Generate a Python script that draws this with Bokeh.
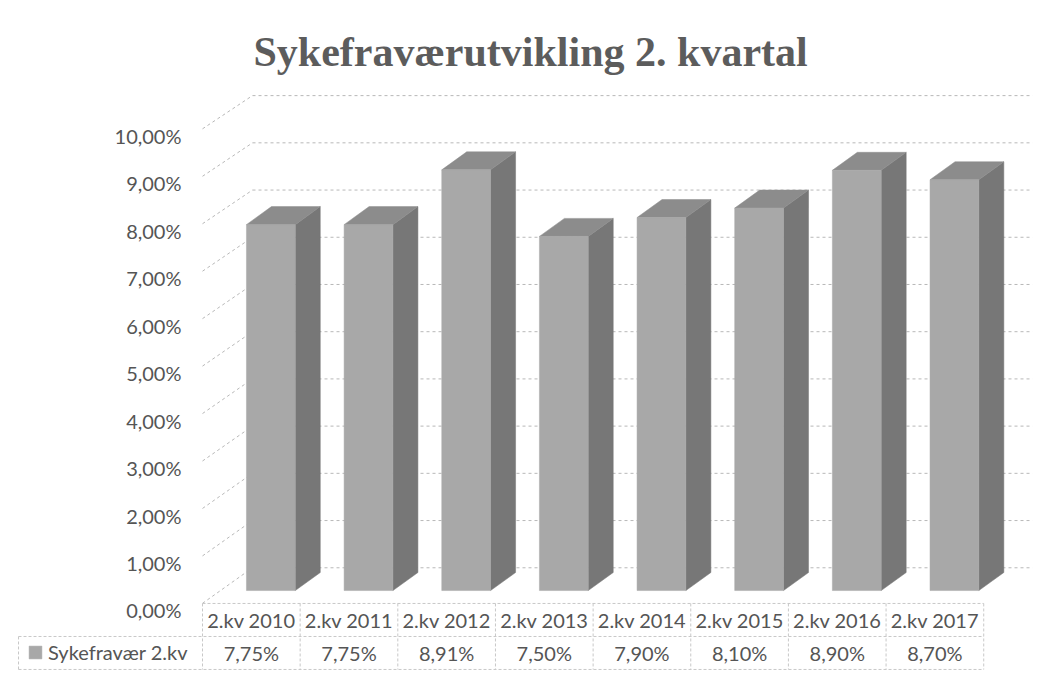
from bokeh.plotting import figure
from bokeh.models import Range1d, FixedTicker, ColumnDataSource, Legend, LegendItem
from bokeh.core.properties import value
from bokeh.embed import file_html
from bokeh.resources import INLINE

# ---- data ----
categories = ["2.kv 2010", "2.kv 2011", "2.kv 2012", "2.kv 2013",
              "2.kv 2014", "2.kv 2015", "2.kv 2016", "2.kv 2017"]
values = [7.75, 7.75, 8.91, 7.50, 7.90, 8.10, 8.90, 8.70]
series_name = "Sykefravær 2.kv"
y_ticks = [0, 1, 2, 3, 4, 5, 6, 7, 8, 9, 10]
y_tick_labels = ["0,00%", "1,00%", "2,00%", "3,00%", "4,00%", "5,00%",
                 "6,00%", "7,00%", "8,00%", "9,00%", "10,00%"]
title_text = "Sykefraværutvikling 2. kvartal"

# ---- style / geometry ----
FONT = "Lato"
TXT = "#555555"
FRONT = "#a8a8a8"
SIDE = "#777777"
TOP = "#8c8c8c"
GRID = "#b8b8b8"
CELL = "#c8c8c8"

bar_left = 0.45          # front face left offset within category cell
bar_w = 0.50             # front face width
depth_x = 0.256          # bar depth (x units)
depth_y = 0.38           # bar depth (y units)
base = 0.42              # front base level
persp = 0.995            # front-face scale
wall_x = 0.512           # back-wall start
wall_end = 8.5
wall_dy = 0.90
wall_s = 0.995
front_dy = 0.15
row1_top = 0.148
row1_bot = -0.548
row2_bot = -1.243
key_left = -1.884        # left edge of the table's key column

n = len(categories)

p = figure(width=1040, height=672, x_range=Range1d(-1.8945, 8.52),
           y_range=Range1d(-1.286, 11.0),
           output_backend="svg", toolbar_location=None,
           x_axis_location=None, min_border_left=17, min_border_right=6,
           min_border_top=88, min_border_bottom=1, title=title_text)
p.outline_line_color = None
p.grid.visible = False
p.background_fill_color = "white"
p.border_fill_color = "white"
p.title.text_font = "Liberation Serif"
p.title.text_font_style = "bold"
p.title.text_font_size = "42px"
p.title.text_color = "#5c5c5c"
p.title.align = "left"
p.title.offset = 236
p.title.standoff = 28

ax = p.yaxis[0]
ax.fixed_location = 0
ax.ticker = FixedTicker(ticks=y_ticks)
ax.major_label_overrides = {t: lab for t, lab in zip(y_ticks, y_tick_labels)}
ax.axis_line_color = None
ax.major_tick_line_color = None
ax.minor_tick_line_color = None
ax.major_tick_out = 0
ax.major_tick_in = 0
ax.major_label_text_font = FONT
ax.major_label_text_font_size = "20px"
ax.major_label_text_color = TXT
ax.major_label_standoff = 21

# back wall gridlines and left-wall diagonals
back_y = [t * wall_s + wall_dy for t in y_ticks]
p.segment(x0=[wall_x] * len(y_ticks), y0=back_y,
          x1=[wall_end] * len(y_ticks), y1=back_y,
          line_color=GRID, line_width=1, line_dash="3 3")
p.segment(x0=[0] * len(y_ticks), y0=[t + front_dy for t in y_ticks],
          x1=[wall_x] * len(y_ticks), y1=back_y,
          line_color=GRID, line_width=1, line_dash="3 3")

# bars
xs_front = [i + bar_left + bar_w / 2 for i in range(n)]
tops = [base + v * persp for v in values]
side_xs, side_ys, top_xs, top_ys = [], [], [], []
for i, t in enumerate(tops):
    xl = i + bar_left
    xr = xl + bar_w
    side_xs.append([xr, xr, xr + depth_x, xr + depth_x])
    side_ys.append([base, t, t + depth_y, base + depth_y])
    top_xs.append([xl, xr, xr + depth_x, xl + depth_x])
    top_ys.append([t, t, t + depth_y, t + depth_y])
p.patches(xs=side_xs, ys=side_ys, fill_color=SIDE, line_color=SIDE, line_width=0.5)
p.patches(xs=top_xs, ys=top_ys, fill_color=TOP, line_color=TOP, line_width=0.5)
bars = p.vbar(x=xs_front, width=bar_w, bottom=base, top=tops,
              fill_color=FRONT, line_color=FRONT, line_width=0.5)

# data table: cell borders
p.segment(x0=[0, key_left, key_left], y0=[row1_top, row1_bot, row2_bot],
          x1=[n, n, n], y1=[row1_top, row1_bot, row2_bot],
          line_color=CELL, line_dash="3 2", line_width=1)
vx = list(range(n + 1))
p.segment(x0=vx, y0=[row1_top] * len(vx), x1=vx, y1=[row2_bot] * len(vx),
          line_color=CELL, line_dash="3 2", line_width=1)
p.segment(x0=[key_left], y0=[row1_bot], x1=[key_left], y1=[row2_bot],
          line_color=CELL, line_dash="3 2", line_width=1)

# row 1: categories
cat_src = ColumnDataSource(dict(x=[i + 0.5 for i in range(n)],
                                y=[(row1_top + row1_bot) / 2] * n, text=categories))
p.text(x="x", y="y", text="text", source=cat_src, text_font=value(FONT),
       text_font_size="20px", text_color=TXT, text_align="center",
       text_baseline="middle")

# row 2: values
val_labels = [f"{v:.2f}".replace(".", ",") + "%" for v in values]
val_src = ColumnDataSource(dict(x=[i + 0.5 for i in range(n)],
                                y=[(row1_bot + row2_bot) / 2] * n, text=val_labels))
p.text(x="x", y="y", text="text", source=val_src, text_font=value(FONT),
       text_font_size="20px", text_color=TXT, text_align="center",
       text_baseline="middle")

# legend key in the table's first column
legend = Legend(items=[LegendItem(label=series_name, renderers=[bars])],
                location=(6, 3), orientation="vertical",
                margin=0, padding=4, spacing=0,
                glyph_width=16, glyph_height=16, label_standoff=5,
                label_height=20,
                label_text_font=FONT, label_text_font_size="20px",
                label_text_color=TXT,
                border_line_alpha=0, background_fill_alpha=0)
p.add_layout(legend, "center")

open("out.html", "w").write(file_html(p, INLINE))
